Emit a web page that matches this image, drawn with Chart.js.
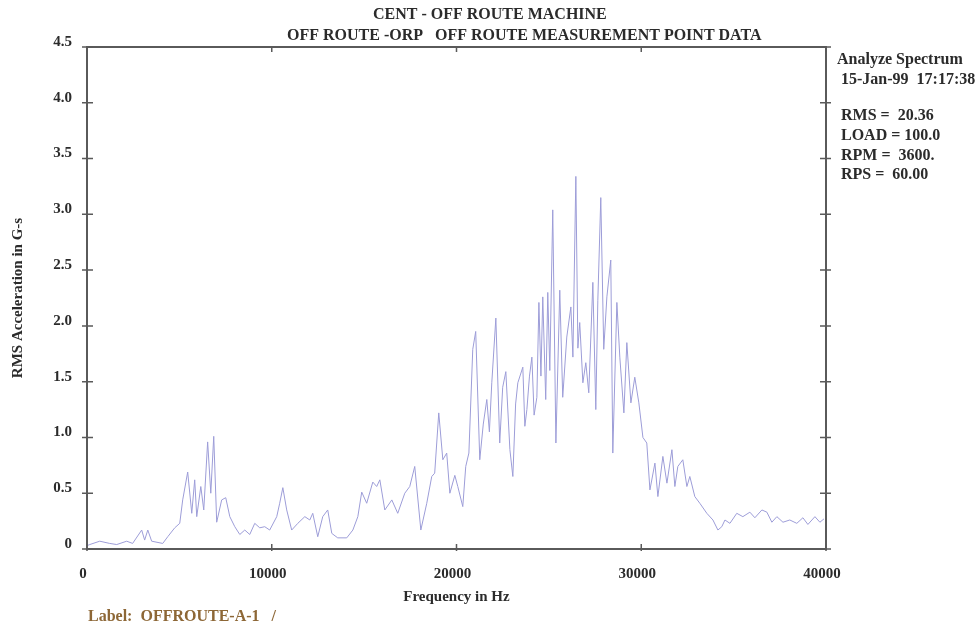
<!DOCTYPE html>
<html>
<head>
<meta charset="utf-8">
<script src="https://cdn.jsdelivr.net/npm/chart.js@4/dist/chart.umd.min.js"></script>
<style>
html, body { margin: 0; padding: 0; background: #fff; }
#wrap { width: 979px; height: 630px; }
</style>
</head>
<body>
<div id="wrap"><canvas id="spectrum" width="979" height="630"></canvas></div>
<script>
// spectrum, Hz / G-s
const freqs = [
    0, 150, 690, 1230, 1610, 2150, 2470, 2960, 3120, 3290, 3500, 4100, 4370, 4750, 5020, 5180,
    5450, 5670, 5830, 5940, 6160, 6320, 6530, 6700, 6860, 7020, 7290, 7510, 7730, 8000, 8270,
    8540, 8810, 9080, 9350, 9620, 9890, 10270, 10430, 10600, 10810, 11080, 11410, 11790, 12060,
    12220, 12490, 12760, 13030, 13250, 13570, 14060, 14390, 14660, 14870, 15140, 15470, 15680,
    15850, 16120, 16500, 16820, 17200, 17470, 17740, 18070, 18390, 18660, 18820, 19040, 19260,
    19470, 19640, 19910, 20070, 20340, 20500, 20670, 20880, 21040, 21260, 21450, 21640, 21780,
    21910, 22130, 22340, 22500, 22670, 22890, 23050, 23200, 23320, 23590, 23700, 23810, 23950,
    24080, 24200, 24350, 24460, 24570, 24670, 24830, 24940, 25050, 25210, 25380, 25590, 25750,
    25970, 26190, 26300, 26460, 26570, 26670, 26840, 27000, 27160, 27380, 27540, 27650, 27810,
    27970, 28140, 28350, 28460, 28680, 28840, 29060, 29220, 29440, 29650, 29870, 30090, 30300,
    30470, 30740, 30900, 31170, 31390, 31660, 31820, 31980, 32250, 32470, 32630, 32900, 33170,
    33550, 33880, 34150, 34360, 34530, 34800, 35170, 35500, 35880, 36150, 36530, 36800, 37070,
    37340, 37670, 38040, 38420, 38750, 39020, 39400, 39670, 39890
];
const amps = [
    0.03, 0.04, 0.07, 0.05, 0.04, 0.07, 0.05, 0.17, 0.08, 0.17, 0.07, 0.05, 0.11, 0.19, 0.23, 0.44,
    0.69, 0.32, 0.62, 0.29, 0.56, 0.35, 0.96, 0.50, 1.01, 0.24, 0.44, 0.46, 0.29, 0.20, 0.13,
    0.17, 0.13, 0.23, 0.19, 0.20, 0.17, 0.29, 0.41, 0.55, 0.35, 0.17, 0.23, 0.29, 0.26,
    0.32, 0.11, 0.29, 0.35, 0.14, 0.10, 0.10, 0.17, 0.29, 0.51, 0.41, 0.60, 0.56,
    0.62, 0.35, 0.44, 0.32, 0.50, 0.56, 0.74, 0.17, 0.41, 0.65, 0.68, 1.22, 0.80,
    0.86, 0.50, 0.66, 0.56, 0.38, 0.74, 0.86, 1.79, 1.95, 0.80, 1.12, 1.34, 1.05,
    1.49, 2.07, 0.95, 1.45, 1.59, 0.89, 0.65, 1.30, 1.49, 1.63, 1.10, 1.25, 1.55,
    1.72, 1.20, 1.36, 2.21, 1.55, 2.26, 1.34, 2.30, 1.60,
    3.04, 0.95, 2.32, 1.36, 1.90, 2.17, 1.72, 3.34, 1.80, 2.03, 1.49, 1.67, 1.40, 2.39,
    1.25, 2.23, 3.15, 1.79, 2.26, 2.59, 0.86, 2.21, 1.72, 1.22, 1.85, 1.31, 1.54,
    1.31, 1.00, 0.95, 0.53, 0.77, 0.47, 0.83, 0.59, 0.89, 0.56, 0.74, 0.80, 0.56,
    0.65, 0.47, 0.41, 0.32, 0.26, 0.17, 0.20, 0.26, 0.23, 0.32, 0.29, 0.33, 0.28,
    0.35, 0.33, 0.24, 0.29, 0.24, 0.26, 0.23, 0.28, 0.22, 0.29, 0.24, 0.27
];
const xTicks = [0, 10000, 20000, 30000, 40000];
const yTicks = [0, 0.5, 1.0, 1.5, 2.0, 2.5, 3.0, 3.5, 4.0, 4.5];
const titleLines = ['CENT - OFF ROUTE MACHINE', 'OFF ROUTE -ORP   OFF ROUTE MEASUREMENT POINT DATA'];
const infoLines = ['Analyze Spectrum', ' 15-Jan-99  17:17:38', '', ' RMS =  20.36', ' LOAD = 100.0', ' RPM =  3600.', ' RPS =  60.00'];
const footLabel = 'Label:  OFFROUTE-A-1   /';

const serif = '"Liberation Serif", "Times New Roman", serif';
const ink = '#2b2b2b';
const axisGrey = '#5a5a5a';

const framePlugin = {
    id: 'frame',
    afterDraw(chart) {
        const ctx = chart.ctx;
        const a = chart.chartArea;
        const xs = chart.scales.x, ys = chart.scales.y;
        ctx.save();
        ctx.strokeStyle = axisGrey;
        ctx.lineWidth = 2;
        ctx.strokeRect(a.left, a.top, a.right - a.left, a.bottom - a.top);

        // tick marks on all four sides
        ctx.lineWidth = 1.5;
        ctx.beginPath();
        yTicks.forEach(v => {
            const y = ys.getPixelForValue(v);
            ctx.moveTo(a.left - 5, y); ctx.lineTo(a.left + 6, y);
            ctx.moveTo(a.right - 6, y); ctx.lineTo(a.right + 5, y);
        });
        xTicks.forEach(v => {
            const x = xs.getPixelForValue(v);
            ctx.moveTo(x, a.bottom + 2); ctx.lineTo(x, a.bottom - 5);
            ctx.moveTo(x, a.top - 1); ctx.lineTo(x, a.top + 5);
        });
        ctx.stroke();

        ctx.fillStyle = ink;
        ctx.textBaseline = 'middle';
        ctx.textAlign = 'left';
        ctx.font = 'bold 16px ' + serif;
        ctx.fillText(titleLines[0], 373, 15);
        ctx.fillText(titleLines[1], 287, 36);

        const rows = [60, 80, 98, 116, 136, 156, 175];
        infoLines.forEach((t, i) => {
            if (t) ctx.fillText(t, 837, rows[i]);
        });

        ctx.fillStyle = '#8d6736';
        ctx.font = 'bold 16px ' + serif;
        ctx.fillText(footLabel, 88, 617);
        ctx.restore();
    }
};

const points = freqs.map((f, i) => ({ x: f, y: amps[i] }));

new Chart(document.getElementById('spectrum'), {
    type: 'scatter',
    data: {
        datasets: [{
            data: points,
            showLine: true,
            borderColor: '#9d9dd8',
            borderWidth: 1,
            pointRadius: 0,
            tension: 0
        }]
    },
    options: {
        responsive: false,
        animation: false,
        devicePixelRatio: 1,
        layout: { padding: { left: 6, top: 47, right: 153, bottom: 0 } },
        plugins: { legend: { display: false }, tooltip: { enabled: false } },
        scales: {
            x: {
                type: 'linear',
                min: 0, max: 40000,
                afterBuildTicks: s => { s.ticks = xTicks.map(v => ({ value: v })); },
                afterFit: s => { s.height = 81; },
                grid: { display: false },
                border: { display: false },
                ticks: {
                    color: ink, padding: 8, labelOffset: -4, maxRotation: 0,
                    font: { family: serif, size: 15, weight: 'bold' },
                    callback: v => String(v)
                },
                title: {
                    display: true, text: 'Frequency in Hz', color: ink,
                    font: { family: serif, size: 15, weight: 'bold' },
                    padding: { top: 0, bottom: 24 }
                }
            },
            y: {
                min: 0, max: 4.5,
                afterBuildTicks: s => { s.ticks = yTicks.map(v => ({ value: v })); },
                afterFit: s => { s.width = 81; },
                grid: { display: false },
                border: { display: false },
                ticks: {
                    color: ink, padding: 7, labelOffset: -5,
                    font: { family: serif, size: 15, weight: 'bold' },
                    callback: v => v === 0 ? '0' : v.toFixed(1)
                },
                title: {
                    display: true, text: 'RMS Acceleration in G-s', color: ink,
                    font: { family: serif, size: 15, weight: 'bold' },
                    padding: { top: 3, bottom: 0 }
                }
            }
        }
    },
    plugins: [framePlugin]
});
</script>
</body>
</html>
